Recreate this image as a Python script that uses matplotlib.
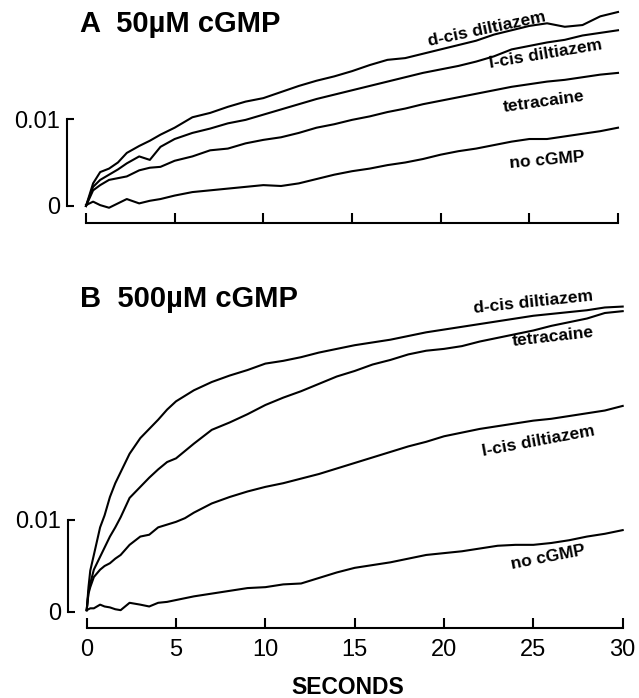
import matplotlib
matplotlib.use('Agg')
import matplotlib.pyplot as plt

plt.rcParams['font.family'] = ['Liberation Sans', 'DejaVu Sans']

W, H = 639, 698

# panel A, 50uM cGMP
tA = [0, 0.4, 0.8, 1.3, 1.8, 2.3, 3, 3.6, 4.2, 5, 6, 7, 8, 9, 10, 11, 12, 13, 14, 15,
      16, 17, 18, 19, 20, 21, 22, 23, 24, 25, 26, 27, 28, 29, 30]
dcisA = [0, 0.0026, 0.0039, 0.0043, 0.0050, 0.0061, 0.0069, 0.0075, 0.0082, 0.0090,
         0.0102, 0.0107, 0.0114, 0.0120, 0.0124, 0.0131, 0.0138, 0.0144, 0.0149, 0.0155,
         0.0162, 0.0168, 0.0170, 0.0175, 0.0180, 0.0185, 0.0190, 0.0197, 0.0202, 0.0207,
         0.0210, 0.0206, 0.0208, 0.0218, 0.0223]
lcisA = [0, 0.0022, 0.0030, 0.0036, 0.0042, 0.0049, 0.0057, 0.0053, 0.0068, 0.0077,
         0.0084, 0.0089, 0.0095, 0.0099, 0.0105, 0.0111, 0.0117, 0.0123, 0.0128, 0.0133,
         0.0138, 0.0143, 0.0148, 0.0153, 0.0157, 0.0161, 0.0166, 0.0172, 0.0180, 0.0184,
         0.0188, 0.0191, 0.0196, 0.0199, 0.0202]
tetraA = [0, 0.0018, 0.0024, 0.0030, 0.0032, 0.0034, 0.0041, 0.0044, 0.0045, 0.0052,
          0.0057, 0.0064, 0.0066, 0.0072, 0.0076, 0.0079, 0.0084, 0.0090, 0.0094, 0.0099,
          0.0103, 0.0108, 0.0112, 0.0117, 0.0121, 0.0125, 0.0129, 0.0133, 0.0137, 0.0140,
          0.0143, 0.0145, 0.0148, 0.0151, 0.0153]
nocA = [0.0001, 0.0005, 0.0001, -0.0002, 0.0003, 0.0008, 0.0003, 0.0006, 0.0008, 0.0012,
        0.0016, 0.0018, 0.0020, 0.0022, 0.0024, 0.0023, 0.0026, 0.0031, 0.0036, 0.0040,
        0.0043, 0.0047, 0.0050, 0.0054, 0.0059, 0.0063, 0.0066, 0.0070, 0.0074, 0.0077,
        0.0077, 0.0080, 0.0083, 0.0086, 0.0090]

# panel B, 500uM cGMP
tB = [0, 0.1, 0.2, 0.4, 0.75, 1.0, 1.3, 1.6, 1.9, 2.4, 3, 3.5, 4, 4.5, 5, 5.5, 6, 7, 8, 9,
      10, 11, 12, 13, 14, 15, 16, 17, 18, 19, 20, 21, 22, 23, 24, 25, 26, 27, 28, 29, 30]
dcisB = [0.0002, 0.0027, 0.0045, 0.0062, 0.0092, 0.0105, 0.0125, 0.0140, 0.0152, 0.0172,
         0.0189, 0.0199, 0.0209, 0.0220, 0.0229, 0.0235, 0.0241, 0.0250, 0.0257, 0.0263,
         0.0270, 0.0273, 0.0277, 0.0282, 0.0286, 0.0290, 0.0293, 0.0296, 0.0300, 0.0304,
         0.0307, 0.0310, 0.0313, 0.0316, 0.0319, 0.0322, 0.0324, 0.0326, 0.0328, 0.0331,
         0.0332]
tetraB = [0.0002, 0.0022, 0.0031, 0.0046, 0.0060, 0.0070, 0.0082, 0.0092, 0.0103, 0.0124,
          0.0136, 0.0146, 0.0155, 0.0163, 0.0167, 0.0175, 0.0183, 0.0198, 0.0206, 0.0215,
          0.0225, 0.0233, 0.0240, 0.0248, 0.0256, 0.0262, 0.0269, 0.0274, 0.0280, 0.0284,
          0.0286, 0.0289, 0.0294, 0.0298, 0.0302, 0.0306, 0.0311, 0.0315, 0.0319, 0.0325,
          0.0327]
lcisB = [0.0002, 0.0020, 0.0027, 0.0038, 0.0046, 0.0050, 0.0053, 0.0058, 0.0062, 0.0073,
         0.0082, 0.0084, 0.0092, 0.0095, 0.0098, 0.0102, 0.0108, 0.0118, 0.0125, 0.0131,
         0.0136, 0.0140, 0.0145, 0.0150, 0.0156, 0.0162, 0.0168, 0.0174, 0.0180, 0.0185,
         0.0191, 0.0195, 0.0199, 0.0202, 0.0205, 0.0208, 0.0210, 0.0213, 0.0216, 0.0219,
         0.0224]
nocB = [0.0002, 0.0003, 0.0004, 0.0004, 0.0008, 0.0006, 0.0005, 0.0003, 0.0002, 0.0010,
        0.0008, 0.0006, 0.0010, 0.0011, 0.0013, 0.0015, 0.0017, 0.0020, 0.0023, 0.0026,
        0.0027, 0.0030, 0.0031, 0.0037, 0.0043, 0.0048, 0.0051, 0.0054, 0.0058, 0.0062,
        0.0064, 0.0066, 0.0069, 0.0072, 0.0073, 0.0073, 0.0075, 0.0078, 0.0082, 0.0085,
        0.0089]

xticks = [0, 5, 10, 15, 20, 25, 30]

fig = plt.figure(figsize=(W / 100, H / 100), dpi=100)


def make_axes(x0, x1, top, bot, zero, scale, axis_y):
    # pixel box -> axes; scale = pixels per 0.01
    ax = fig.add_axes([x0 / W, 1 - bot / H, (x1 - x0) / W, (bot - top) / H])
    ax.set_xlim(0, 30)
    ax.set_ylim((zero - bot) / scale * 0.01, (zero - top) / scale * 0.01)
    ax.spines['top'].set_visible(False)
    ax.spines['right'].set_visible(False)
    ax.spines['left'].set_position(('outward', 13.5))
    ax.spines['left'].set_bounds(0, 0.01)
    ax.spines['bottom'].set_position(('data', (zero - axis_y) / scale * 0.01))
    ax.spines['bottom'].set_bounds(0, 30)
    for s in ['left', 'bottom']:
        ax.spines[s].set_linewidth(1.5)
    ax.set_xticks(xticks)
    ax.set_yticks([0, 0.01])
    ax.set_yticklabels(['0', '0.01'])
    ax.tick_params(axis='x', direction='in', length=7, width=1.5, pad=8, labelsize=17)
    ax.tick_params(axis='y', direction='in', length=5, width=1.5, pad=5, labelsize=17)
    return ax


lab = dict(fontsize=12.5, weight='bold', ha='center', va='center', rotation_mode='anchor')

axA = make_axes(86, 618, 5, 228, 206, 87, 223)
axA.tick_params(axis='x', labelbottom=False)
for y in [dcisA, lcisA, tetraA, nocA]:
    axA.plot(tA, y, c='k', lw=1.5, clip_on=False)
axA.text(22.6, 0.0203, 'd-cis diltiazem', rotation=12, **lab)
axA.text(25.9, 0.0175, 'l-cis diltiazem', rotation=9.5, **lab)
axA.text(25.8, 0.0120, 'tetracaine', rotation=8, **lab)
axA.text(26.0, 0.0053, 'no cGMP', rotation=5, **lab)

axB = make_axes(86.7, 622.7, 290, 633, 612, 92, 628)
for y in [dcisB, tetraB, lcisB, nocB]:
    axB.plot(tB, y, c='k', lw=1.5, clip_on=False)
axB.text(25.0, 0.0337, 'd-cis diltiazem', rotation=6, **lab)
axB.text(26.1, 0.0299, 'tetracaine', rotation=6.5, **lab)
axB.text(25.3, 0.0186, 'l-cis diltiazem', rotation=10.5, **lab)
axB.text(25.8, 0.0059, 'no cGMP', rotation=11, **lab)

fig.text(80 / W, 1 - 24 / H, 'A  50\u00b5M cGMP', fontsize=21, weight='bold', va='center')
fig.text(80 / W, 1 - 299 / H, 'B  500\u00b5M cGMP', fontsize=21, weight='bold', va='center')
fig.text(348 / W, 1 - 687 / H, 'SECONDS', fontsize=16.5, weight='bold', ha='center', va='center')

fig.savefig('out.png', dpi=100)
